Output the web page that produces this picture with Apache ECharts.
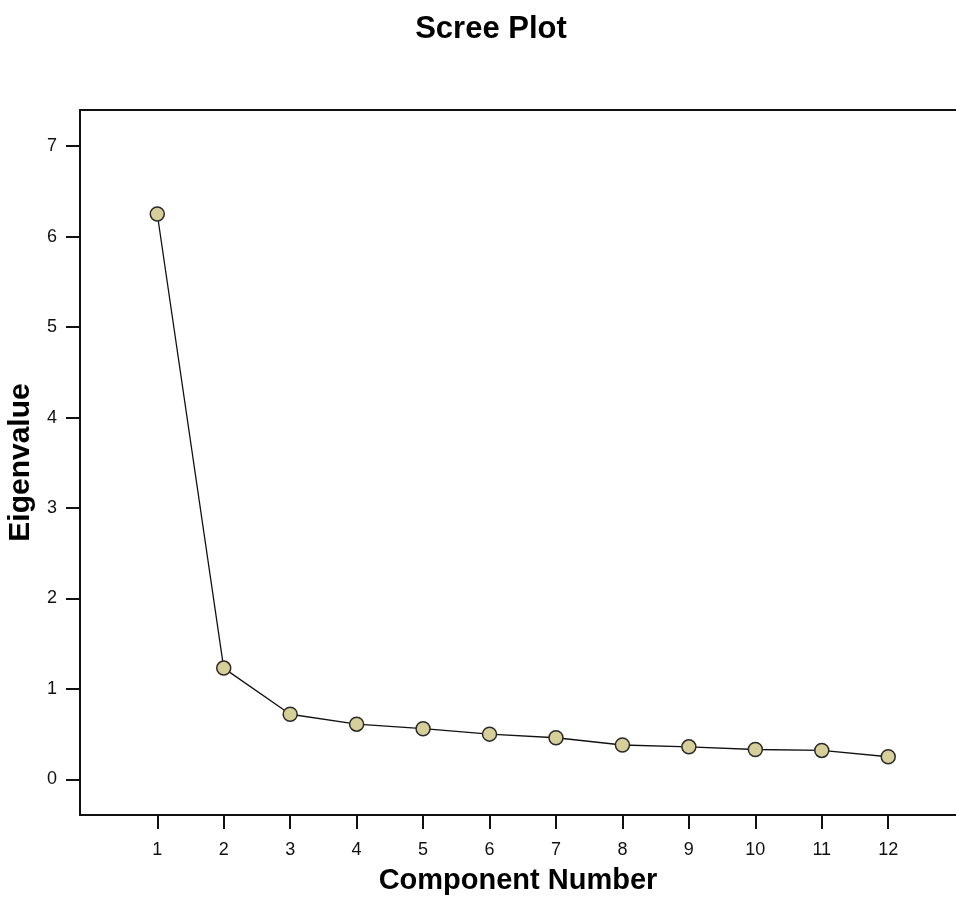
<!DOCTYPE html>
<html>
<head>
<meta charset="utf-8">
<title>Scree Plot</title>
<script src="https://cdn.jsdelivr.net/npm/echarts@6/dist/echarts.min.js"></script>
<style>
    html, body { margin: 0; padding: 0; background: #fff; }
    #chart { width: 956px; height: 900px; }
</style>
</head>
<body>
<div id="chart"></div>
<script>
// eigenvalues
var components = [1, 2, 3, 4, 5, 6, 7, 8, 9, 10, 11, 12];
var eigenvalues = [6.25, 1.23, 0.72, 0.61, 0.56, 0.50, 0.46, 0.38, 0.36, 0.33, 0.32, 0.25];
var yTicks = [0, 1, 2, 3, 4, 5, 6, 7];
var xTicks = components;

var FONT = 'Liberation Sans, Arial, sans-serif';

function buildPoints() {
    var pts = [];
    components.forEach(function (c, i) {
        pts.push([c, eigenvalues[i]]);
    });
    return pts;
}

document.addEventListener("DOMContentLoaded", () => {
    var chart = echarts.init(document.querySelector("#chart"));
    chart.setOption({
        animation: false,
        backgroundColor: '#ffffff',
        title: {
            text: 'Scree Plot',
            left: 486,
            top: 9,
            textAlign: 'center',
            textStyle: {
                fontFamily: FONT,
                fontSize: 31,
                fontWeight: 'bold',
                color: '#000'
            }
        },
        grid: {
            left: 80,
            top: 110,
            right: 0,
            bottom: 85,
            outerBoundsMode: 'none',
            containLabel: false,
            show: false
        },
        xAxis: [{
            type: 'value',
            min: -0.163,
            max: 13.02,
            name: 'Component Number',
            nameLocation: 'middle',
            nameGap: 51,
            nameTextStyle: {
                fontFamily: FONT,
                fontSize: 29,
                fontWeight: 'bold',
                color: '#000'
            },
            splitLine: { show: false },
            axisLine: { show: true, onZero: false, lineStyle: { color: '#111', width: 2 } },
            axisTick: {
                show: true,
                length: 14,
                customValues: xTicks,
                lineStyle: { color: '#111', width: 2 }
            },
            axisLabel: {
                customValues: xTicks,
                margin: 26,
                fontFamily: FONT,
                fontSize: 18,
                color: '#111'
            }
        }, {
            // top frame line of the plot box
            type: 'value',
            position: 'top',
            min: -0.163,
            max: 13.02,
            splitLine: { show: false },
            axisLine: { show: true, onZero: false, lineStyle: { color: '#111', width: 2 } },
            axisTick: { show: false },
            axisLabel: { show: false }
        }],
        yAxis: {
            type: 'value',
            min: -0.394,
            max: 7.40,
            name: 'Eigenvalue',
            nameLocation: 'middle',
            nameGap: 40,
            nameTextStyle: {
                fontFamily: FONT,
                fontSize: 30,
                fontWeight: 'bold',
                color: '#000'
            },
            splitLine: { show: false },
            axisLine: { show: true, onZero: false, lineStyle: { color: '#111', width: 2 } },
            axisTick: {
                show: true,
                length: 14,
                customValues: yTicks,
                lineStyle: { color: '#111', width: 2 }
            },
            axisLabel: {
                customValues: yTicks,
                margin: 23,
                fontFamily: FONT,
                fontSize: 18,
                color: '#111'
            }
        },
        series: [{
            name: 'Eigenvalue',
            type: 'line',
            xAxisIndex: 0,
            data: buildPoints(),
            symbol: 'circle',
            symbolSize: 14,
            lineStyle: { color: '#111', width: 1.3 },
            itemStyle: {
                color: '#d6cf9a',
                borderColor: '#2a2a2a',
                borderWidth: 1.5
            }
        }]
    });
});
</script>
</body>
</html>
